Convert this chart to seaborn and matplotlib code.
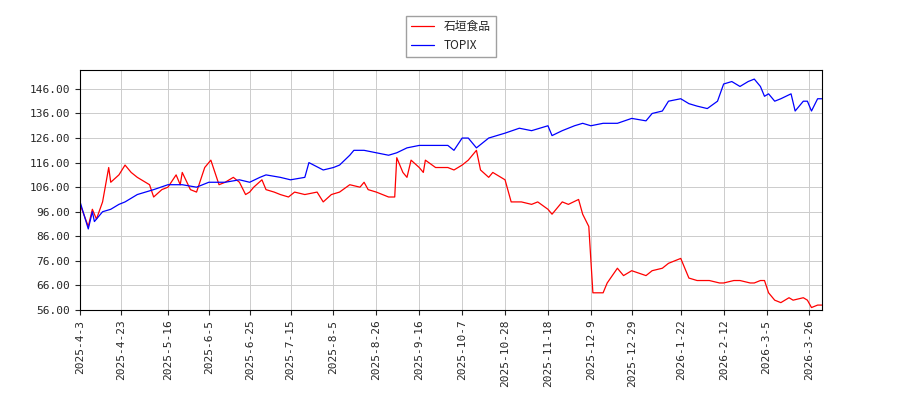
import pandas as pd
import matplotlib
matplotlib.use('Agg')
import matplotlib.pyplot as plt
import seaborn as sns

sns.set_style('ticks')
plt.rcParams['font.family'] = ['Noto Sans CJK JP', 'DejaVu Sans']

red_dates = ['2025-4-3','2025-4-7','2025-4-9','2025-4-11','2025-4-14','2025-4-17','2025-4-18','2025-4-22','2025-4-25','2025-4-28',
             '2025-5-1','2025-5-7','2025-5-9','2025-5-13','2025-5-16','2025-5-20','2025-5-22','2025-5-23','2025-5-27','2025-5-30',
             '2025-6-3','2025-6-5','2025-6-6','2025-6-10','2025-6-13','2025-6-17','2025-6-20','2025-6-23','2025-6-25','2025-6-27',
             '2025-7-1','2025-7-3','2025-7-7','2025-7-10','2025-7-14','2025-7-17','2025-7-22','2025-7-28','2025-7-31','2025-8-4',
             '2025-8-8','2025-8-13','2025-8-18','2025-8-20','2025-8-22','2025-8-26','2025-9-1','2025-9-4','2025-9-5','2025-9-8',
             '2025-9-10','2025-9-12','2025-9-16','2025-9-18','2025-9-19','2025-9-24','2025-9-30','2025-10-3','2025-10-7','2025-10-10',
             '2025-10-14','2025-10-16','2025-10-20','2025-10-22','2025-10-28','2025-10-31','2025-11-5','2025-11-10','2025-11-13','2025-11-18',
             '2025-11-20','2025-11-25','2025-11-28','2025-12-3','2025-12-5','2025-12-8','2025-12-10','2025-12-15','2025-12-17','2025-12-22',
             '2025-12-25','2025-12-29','2026-1-5','2026-1-8','2026-1-13','2026-1-16','2026-1-22','2026-1-26','2026-1-30','2026-2-5',
             '2026-2-10','2026-2-12','2026-2-17','2026-2-20','2026-2-25','2026-2-27','2026-3-2','2026-3-4','2026-3-6','2026-3-9',
             '2026-3-12','2026-3-16','2026-3-18','2026-3-23','2026-3-25','2026-3-27','2026-3-30','2026-4-1']
red_vals = [99,90,97,93,100,114,108,111,115,112,
            110,107,102,105,106,111,107,112,105,104,
            114,116,117,107,108,110,108,103,104,106,
            109,105,104,103,102,104,103,104,100,103,
            104,107,106,108,105,104,102,102,118,112,
            110,117,114,112,117,114,114,113,115,117,
            121,113,110,112,109,100,100,99,100,97,
            95,100,99,101,95,90,63,63,67,73,
            70,72,70,72,73,75,77,69,68,68,
            67,67,68,68,67,67,68,68,63,60,
            59,61,60,61,60,57,58,58]

blue_dates = ['2025-4-3','2025-4-7','2025-4-9','2025-4-10','2025-4-14','2025-4-18','2025-4-22','2025-4-25','2025-5-1','2025-5-9',
              '2025-5-16','2025-5-23','2025-5-30','2025-6-5','2025-6-13','2025-6-20','2025-6-25','2025-6-30','2025-7-3','2025-7-10',
              '2025-7-15','2025-7-22','2025-7-24','2025-7-31','2025-8-5','2025-8-8','2025-8-13','2025-8-15','2025-8-20','2025-8-26',
              '2025-9-1','2025-9-5','2025-9-10','2025-9-16','2025-9-22','2025-9-30','2025-10-3','2025-10-7','2025-10-10','2025-10-14',
              '2025-10-20','2025-10-28','2025-11-4','2025-11-10','2025-11-14','2025-11-18','2025-11-20','2025-11-25','2025-12-1','2025-12-5',
              '2025-12-9','2025-12-15','2025-12-22','2025-12-29','2026-1-5','2026-1-8','2026-1-13','2026-1-16','2026-1-22','2026-1-26',
              '2026-1-30','2026-2-4','2026-2-9','2026-2-12','2026-2-16','2026-2-20','2026-2-24','2026-2-27','2026-3-2','2026-3-4',
              '2026-3-6','2026-3-9','2026-3-12','2026-3-17','2026-3-19','2026-3-23','2026-3-25','2026-3-27','2026-3-30','2026-4-1']
blue_vals = [100,89,96,92,96,97,99,100,103,105,
             107,107,106,108,108,109,108,110,111,110,
             109,110,116,113,114,115,119,121,121,120,
             119,120,122,123,123,123,121,126,126,122,
             126,128,130,129,130,131,127,129,131,132,
             131,132,132,134,133,136,137,141,142,140,
             139,138,141,148,149,147,149,150,147,143,
             144,141,142,144,137,141,141,137,142,142]

tick_labels = ['2025-4-3','2025-4-23','2025-5-16','2025-6-5','2025-6-25','2025-7-15','2025-8-5','2025-8-26','2025-9-16',
               '2025-10-7','2025-10-28','2025-11-18','2025-12-9','2025-12-29','2026-1-22','2026-2-12','2026-3-5','2026-3-26']

fig, ax = plt.subplots(figsize=(9, 4), dpi=100)
fig.subplots_adjust(left=0.089, right=0.913, top=0.825, bottom=0.225)
sns.lineplot(x=pd.to_datetime(red_dates), y=red_vals, color='red', lw=0.9, label='石垣食品', ax=ax)
sns.lineplot(x=pd.to_datetime(blue_dates), y=blue_vals, color='blue', lw=0.9, label='TOPIX', ax=ax)

ax.set_xlim(pd.Timestamp('2025-4-3'), pd.Timestamp('2026-4-1'))
ax.set_ylim(56, 153.7)
ax.set_yticks([56 + 10 * i for i in range(10)])
ax.set_yticklabels([f'{56 + 10 * i:.2f}' for i in range(10)], family='DejaVu Sans Mono', fontsize=8)
ax.set_xticks(pd.to_datetime(tick_labels))
ax.set_xticklabels(tick_labels, rotation=90, family='DejaVu Sans Mono', fontsize=8)
ax.set_xlabel('')
ax.set_ylabel('')
ax.grid(True, color='#cccccc', lw=0.7)
for s in ax.spines.values():
    s.set_color('black')
ax.legend(loc='lower center', bbox_to_anchor=(0.5, 1.03), fontsize=8.5, frameon=True,
          fancybox=False, edgecolor='#888888')
fig.savefig('out.png')
